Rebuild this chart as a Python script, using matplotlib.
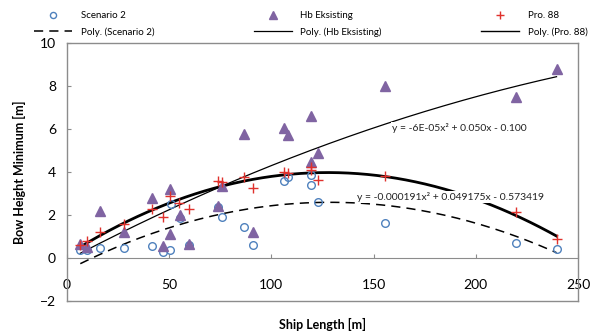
import matplotlib
matplotlib.use("Agg")
import matplotlib.pyplot as plt
import numpy as np

plt.rcParams["font.family"] = ["Lato", "DejaVu Sans"]

# Scenario 2 (open circles)
sc2_x = [6.5, 10, 16, 28, 41.5, 47, 50.5, 51, 55.5, 59.5, 74, 76, 86.5, 91,
         106, 108, 119.5, 119.5, 123, 155.5, 219.5, 239.5]
sc2_y = [0.37, 0.36, 0.45, 0.45, 0.56, 0.3, 0.37, 2.5, 1.85, 0.62, 2.38, 1.92,
         1.44, 0.62, 3.58, 3.78, 3.84, 3.38, 2.6, 1.61, 0.68, 0.4]

# Hb Eksisting (triangles)
hb_x = [6.5, 10, 16, 28, 41.5, 47, 50.5, 50.5, 55.5, 59.5, 74, 76, 86.5, 91,
        106, 108, 119.5, 119.5, 123, 155.5, 219.5, 239.5]
hb_y = [0.65, 0.5, 2.2, 1.22, 2.8, 0.58, 3.2, 1.1, 2.0, 0.65, 2.42, 3.35,
        5.77, 1.2, 6.05, 5.7, 6.62, 4.45, 4.87, 8.0, 7.5, 8.78]

# Pro. 88 (plus)
pro_x = [6.5, 10, 16, 28, 41.5, 47, 50.5, 55, 59.5, 74, 76, 86.5, 91,
         106, 108, 119.5, 119.5, 123, 155.5, 219.5, 239.5]
pro_y = [0.6, 0.8, 1.22, 1.6, 2.3, 1.92, 2.87, 2.57, 2.26, 3.6, 3.52, 3.78,
         3.28, 4.02, 3.97, 4.25, 4.1, 3.63, 3.81, 2.12, 0.87]

# trendline coefficients as printed on the chart
sc2_coef = [-0.000191, 0.049175, -0.573419]
hb_coef = [-6e-05, 0.050, -0.100]
pro_coef = np.polyfit(pro_x, pro_y, 2)

sc2_eq = "y = -0.000191x² + 0.049175x - 0.573419"
hb_eq = "y = -6E-05x² + 0.050x - 0.100"

x_ticks = [0, 50, 100, 150, 200, 250]
y_ticks = [-2, 0, 2, 4, 6, 8, 10]

fig = plt.figure(figsize=(5.91, 3.36), dpi=100)
ax = fig.add_axes([0.1134, 0.104, 0.8646, 0.768])

grey = "#8c8c8c"
blue = "#4f81bd"
purple = "#8064a2"
red = "#e0312c"

ax.plot(sc2_x, sc2_y, "o", ms=5.5, mfc="none", mec=blue, mew=1.0,
        label="Scenario 2", zorder=3)
ax.plot(hb_x, hb_y, "^", ms=6.5, color=purple, mec=purple,
        label="Hb Eksisting", zorder=3)
ax.plot(pro_x, pro_y, "+", ms=7, color=red, mew=1.0,
        label="Pro. 88", zorder=3)

xx = np.linspace(min(sc2_x), max(sc2_x), 200)
ax.plot(xx, np.polyval(sc2_coef, xx), color="black", lw=1.1,
        dashes=(6, 4), label="Poly. (Scenario 2)", zorder=2)
xx = np.linspace(min(hb_x), max(hb_x), 200)
ax.plot(xx, np.polyval(hb_coef, xx), color="black", lw=0.9,
        label="Poly. (Hb Eksisting)", zorder=2)
xx = np.linspace(min(pro_x), max(pro_x), 200)
ax.plot(xx, np.polyval(pro_coef, xx), color="black", lw=2.0,
        label="Poly. (Pro. 88)", zorder=2)

ax.text(159, 6.05, hb_eq, fontsize=7.5, va="center", ha="left", color="#222222",
        bbox=dict(facecolor="white", edgecolor="none", pad=1), zorder=4)
ax.text(142, 2.84, sc2_eq, fontsize=7.5, va="center", ha="left", color="#222222",
        bbox=dict(facecolor="white", edgecolor="none", pad=1), zorder=4)

ax.set_xlim(0, 250)
ax.set_ylim(-2, 10)
ax.set_yticks(y_ticks)
ax.tick_params(axis="y", direction="in", length=3, color=grey, labelsize=10, pad=8)
ax.set_xticks([])
for s in ax.spines.values():
    s.set_color(grey)
    s.set_linewidth(1.0)

# horizontal axis crossing at y = 0
sec = ax.secondary_xaxis(1 / 6)
sec.set_xticks(x_ticks)
sec.spines["bottom"].set_color(grey)
sec.tick_params(direction="in", length=3, color=grey, labelsize=10, pad=15)

ax.set_xlabel("Ship Length [m]", fontsize=9, fontweight="bold", labelpad=12)
ax.set_ylabel("Bow Height Minimum [m]", fontsize=9, fontweight="bold", labelpad=10)

h, l = ax.get_legend_handles_labels()
order = [0, 3, 1, 4, 2, 5]
leg = fig.legend([h[i] for i in order], [l[i] for i in order], ncol=3,
                 loc="upper left", bbox_to_anchor=(0.043, 0.992), frameon=False,
                 fontsize=7, handlelength=3.9, handletextpad=0.9,
                 columnspacing=10.2, labelspacing=0.7, numpoints=1,
                 markerscale=0.8)
for line in leg.get_lines():
    if line.get_linewidth() > 1.5:
        line.set_linewidth(1.0)

fig.savefig("out.png", dpi=100)
